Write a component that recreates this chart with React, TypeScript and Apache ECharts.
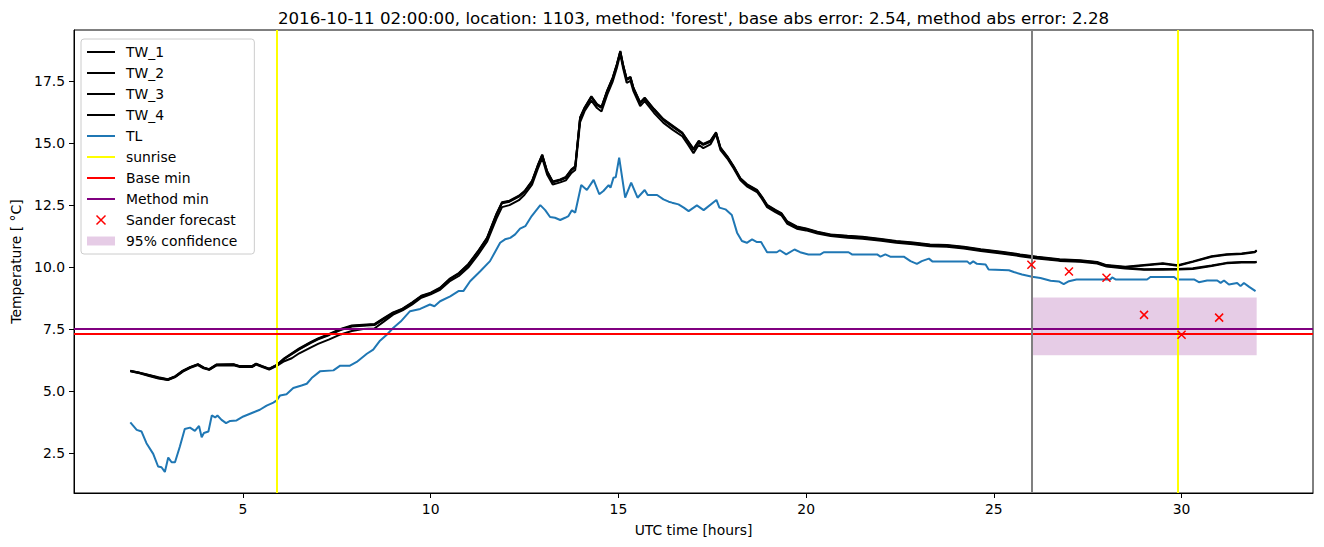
import React, { useEffect, useRef } from 'react';
import * as echarts from 'echarts';

const TITLE = "2016-10-11 02:00:00, location: 1103, method: 'forest', base abs error: 2.54, method abs error: 2.28";
const FONT = 'DejaVu Sans';

const X_TICKS = [5, 10, 15, 20, 25, 30];
const Y_TICKS = [2.5, 5, 7.5, 10, 12.5, 15, 17.5];

// TW sensors (shared time axis, hours UTC)
const T_TW = [2.0, 2.25, 2.5, 2.75, 3.0, 3.2, 3.4, 3.6, 3.8, 3.95, 4.1, 4.3, 4.75, 4.9, 5.25, 5.35, 5.5, 5.7, 5.9,
  6.1, 6.3, 6.5, 6.8, 7.0, 7.3, 7.6, 7.9, 8.2, 8.5, 8.75, 9.0, 9.25, 9.5, 9.75, 10.0, 10.25, 10.5, 10.75, 11.0,
  11.25, 11.5, 11.75, 11.9, 12.1, 12.35, 12.5, 12.7, 12.85, 12.97, 13.1, 13.25, 13.45, 13.6, 13.75, 13.85, 13.98,
  14.1, 14.28, 14.43, 14.55, 14.7, 14.85, 14.96, 15.05, 15.12, 15.22, 15.32, 15.4, 15.58, 15.7, 15.95, 16.2, 16.45,
  16.7, 16.85, 17.0, 17.14, 17.26, 17.45, 17.6, 17.72, 17.9, 18.07, 18.25, 18.42, 18.69, 18.82, 18.96, 19.18, 19.34,
  19.5, 19.75, 20.0, 20.3, 20.65, 21.1, 21.5, 22.0, 22.4, 22.85, 23.3, 23.75, 24.2, 24.65, 25.2, 25.7, 26.15, 26.75,
  27.3, 27.75, 28.0, 28.5, 29.0, 29.5, 29.9, 30.3, 30.8, 31.2, 31.6, 31.95, 32.0];

const TW_1 = [5.80, 5.72, 5.62, 5.52, 5.45, 5.58, 5.80, 5.95, 6.06, 5.93, 5.86, 6.05, 6.06, 5.99, 5.99, 6.08, 5.99, 5.88, 6.03,
  6.30, 6.50, 6.70, 6.95, 7.10, 7.28, 7.48, 7.62, 7.65, 7.68, 7.92, 8.15, 8.30, 8.55, 8.82, 8.95, 9.15, 9.50, 9.74, 10.10,
  10.60, 11.16, 12.12, 12.60, 12.66, 12.86, 13.05, 13.46, 14.08, 14.52, 13.86, 13.44, 13.52, 13.62, 13.93, 14.05, 16.02,
  16.42, 16.87, 16.56, 16.45, 17.10, 17.64, 18.18, 18.70, 18.18, 17.58, 17.66, 17.22, 16.63, 16.82, 16.36, 15.95, 15.68,
  15.41, 15.08, 14.75, 15.08, 14.95, 15.08, 15.42, 14.80, 14.45, 14.05, 13.57, 13.33, 13.10, 12.83, 12.49, 12.29, 12.16,
  11.82, 11.62, 11.54, 11.41, 11.30, 11.24, 11.20, 11.11, 11.03, 10.97, 10.89, 10.87, 10.80, 10.70, 10.60, 10.49, 10.40, 10.30,
  10.26, 10.19, 10.06, 9.99, 10.06, 10.13, 10.05, 10.21, 10.42, 10.50, 10.53, 10.60, 10.66];

const TW_2 = [5.82, 5.74, 5.64, 5.55, 5.47, 5.60, 5.82, 5.97, 6.08, 5.95, 5.88, 6.07, 6.08, 6.01, 6.01, 6.10, 6.01, 5.90, 6.05,
  6.32, 6.52, 6.72, 6.97, 7.12, 7.30, 7.50, 7.64, 7.67, 7.70, 7.94, 8.17, 8.32, 8.57, 8.84, 8.97, 9.17, 9.52, 9.76, 10.12,
  10.62, 11.18, 12.15, 12.62, 12.68, 12.88, 13.07, 13.48, 14.10, 14.54, 13.88, 13.46, 13.54, 13.64, 13.95, 14.07, 16.04,
  16.44, 16.89, 16.58, 16.47, 17.12, 17.66, 18.20, 18.72, 18.20, 17.60, 17.68, 17.24, 16.65, 16.84, 16.38, 15.97, 15.70,
  15.43, 15.10, 14.77, 15.10, 14.97, 15.10, 15.44, 14.82, 14.47, 14.07, 13.59, 13.35, 13.12, 12.85, 12.51, 12.31, 12.18,
  11.84, 11.64, 11.56, 11.43, 11.32, 11.26, 11.22, 11.13, 11.05, 10.99, 10.91, 10.89, 10.82, 10.72, 10.62, 10.51, 10.42, 10.32,
  10.28, 10.21, 10.08, 10.01, 10.08, 10.15, 10.07, 10.23, 10.44, 10.52, 10.55, 10.62, 10.68];

const TW_3 = [5.79, 5.71, 5.60, 5.50, 5.44, 5.56, 5.78, 5.93, 6.04, 5.91, 5.85, 6.03, 6.04, 5.97, 5.97, 6.06, 5.97, 5.86, 6.01,
  6.20, 6.32, 6.52, 6.75, 6.90, 7.08, 7.28, 7.42, 7.50, 7.52, 7.80, 8.08, 8.25, 8.48, 8.76, 8.90, 9.08, 9.42, 9.64, 9.98,
  10.47, 11.02, 11.95, 12.42, 12.50, 12.70, 12.92, 13.33, 13.95, 14.40, 13.74, 13.33, 13.42, 13.50, 13.80, 13.92, 15.85,
  16.30, 16.72, 16.42, 16.28, 16.95, 17.50, 18.05, 18.60, 18.06, 17.44, 17.52, 17.10, 16.50, 16.70, 16.22, 15.82, 15.54,
  15.28, 14.95, 14.60, 14.94, 14.80, 14.95, 15.36, 14.72, 14.38, 13.98, 13.50, 13.26, 13.03, 12.76, 12.42, 12.22, 12.09,
  11.74, 11.55, 11.48, 11.35, 11.25, 11.18, 11.14, 11.06, 10.98, 10.92, 10.84, 10.82, 10.75, 10.65, 10.55, 10.44, 10.35, 10.25,
  10.21, 10.14, 10.02, 9.94, 9.89, 9.89, 9.90, 9.92, 10.04, 10.15, 10.18, 10.18, 10.20];

const TW_4 = [5.81, 5.73, 5.63, 5.53, 5.46, 5.59, 5.81, 5.96, 6.07, 5.94, 5.87, 6.06, 6.07, 6.00, 6.00, 6.09, 6.00, 5.89, 6.04,
  6.29, 6.48, 6.68, 6.93, 7.08, 7.26, 7.46, 7.60, 7.63, 7.66, 7.90, 8.13, 8.29, 8.54, 8.81, 8.94, 9.14, 9.49, 9.72, 10.08,
  10.58, 11.14, 12.10, 12.58, 12.64, 12.84, 13.03, 13.44, 14.06, 14.50, 13.84, 13.42, 13.50, 13.60, 13.91, 14.03, 16.00,
  16.40, 16.85, 16.54, 16.42, 17.08, 17.62, 18.16, 18.68, 18.16, 17.56, 17.64, 17.20, 16.61, 16.80, 16.34, 15.93, 15.66,
  15.39, 15.06, 14.73, 15.06, 14.93, 15.06, 15.40, 14.78, 14.43, 14.03, 13.55, 13.31, 13.08, 12.81, 12.47, 12.27, 12.14,
  11.80, 11.60, 11.52, 11.39, 11.28, 11.22, 11.18, 11.09, 11.01, 10.95, 10.87, 10.85, 10.78, 10.68, 10.58, 10.47, 10.38, 10.28,
  10.24, 10.17, 10.04, 9.97, 9.91, 9.92, 9.92, 9.95, 10.06, 10.17, 10.20, 10.20, 10.22];

// TL sensor
const T_TL = [2.0, 2.17, 2.3, 2.43, 2.61, 2.74, 2.83, 2.92, 3.01, 3.1, 3.19, 3.32, 3.45, 3.59, 3.72, 3.83, 3.9, 3.96, 4.08,
  4.17, 4.26, 4.32, 4.43, 4.55, 4.66, 4.83, 5.01, 5.27, 5.45, 5.63, 5.81, 5.9, 5.99, 6.16, 6.34, 6.56, 6.7, 6.83, 7.05,
  7.41, 7.59, 7.85, 8.03, 8.3, 8.47, 8.65, 8.83, 9.0, 9.2, 9.45, 9.72, 9.98, 10.1, 10.25, 10.52, 10.74, 10.87, 11.05,
  11.32, 11.58, 11.85, 11.98, 12.12, 12.25, 12.38, 12.52, 12.69, 12.92, 13.05, 13.18, 13.31, 13.45, 13.58, 13.67, 13.76,
  13.85, 14.01, 14.16, 14.34, 14.49, 14.6, 14.74, 14.79, 14.87, 14.93, 15.02, 15.18, 15.34, 15.51, 15.7, 15.78, 16.03,
  16.2, 16.34, 16.43, 16.6, 16.74, 16.87, 17.09, 17.27, 17.61, 17.69, 17.85, 18.02, 18.16, 18.29, 18.42, 18.56, 18.69,
  18.8, 18.96, 19.22, 19.3, 19.47, 19.69, 19.84, 20.06, 20.38, 20.47, 21.13, 21.22, 21.89, 21.98, 22.11, 22.24, 22.6,
  22.78, 22.95, 23.08, 23.27, 23.36, 24.29, 24.36, 24.45, 24.55, 24.78, 24.86, 25.4, 25.53, 25.75, 26.02, 26.24, 26.51,
  26.73, 26.86, 27.0, 27.2, 28.1, 28.15, 28.24, 29.08, 29.17, 29.8, 29.88, 30.33, 30.46, 30.68, 30.95, 31.04, 31.13,
  31.26, 31.48, 31.57, 31.66, 31.8, 31.97];

const TL = [3.73, 3.43, 3.36, 2.89, 2.46, 1.95, 1.92, 1.73, 2.31, 2.12, 2.12, 2.76, 3.46, 3.52, 3.39, 3.59, 3.13, 3.30, 3.36,
  4.01, 3.93, 4.01, 3.83, 3.70, 3.79, 3.81, 3.97, 4.13, 4.24, 4.41, 4.53, 4.62, 4.82, 4.87, 5.12, 5.22, 5.29, 5.52, 5.79,
  5.83, 6.02, 6.02, 6.17, 6.50, 6.67, 7.03, 7.27, 7.54, 7.80, 8.22, 8.31, 8.49, 8.42, 8.62, 8.82, 9.03, 9.03, 9.43,
  9.83, 10.24, 10.98, 11.12, 11.18, 11.32, 11.55, 11.65, 12.06, 12.50, 12.30, 12.02, 11.99, 11.90, 11.99, 12.06, 12.29,
  12.20, 13.31, 13.11, 13.52, 12.94, 13.07, 13.31, 13.20, 13.61, 13.63, 14.42, 12.80, 13.41, 12.80, 13.11, 12.91, 12.91,
  12.73, 12.64, 12.60, 12.53, 12.40, 12.26, 12.49, 12.30, 12.71, 12.40, 12.33, 12.10, 11.39, 11.05, 10.98, 11.12, 11.01,
  11.01, 10.60, 10.60, 10.68, 10.51, 10.71, 10.60, 10.51, 10.51, 10.60, 10.60, 10.51, 10.51, 10.42, 10.51, 10.42, 10.42,
  10.24, 10.13, 10.24, 10.34, 10.23, 10.23, 10.13, 10.23, 10.13, 10.10, 9.90, 9.87, 9.80, 9.70, 9.61, 9.56, 9.45,
  9.42, 9.31, 9.43, 9.50, 9.50, 9.58, 9.50, 9.50, 9.60, 9.60, 9.50, 9.50, 9.39, 9.46, 9.46, 9.36, 9.46,
  9.30, 9.36, 9.23, 9.36, 9.20, 9.03];

const SUNRISE = [5.9, 29.9];
const FORECAST_START = 26;
const BASE_MIN = 7.29;
const METHOD_MIN = 7.53;
const SANDER_T = [26, 27, 28, 29, 30, 31];
const SANDER_V = [10.09, 9.82, 9.57, 8.07, 7.27, 7.96];
const CONF_T = [26, 32];
const CONF_V = [6.44, 8.77];

const X_RANGE = [0.5, 33.5];
const Y_RANGE = [0.88, 19.57];

const pairs = (t: number[], v: number[]) => t.map((x, i) => [x, v[i]]);

function twSeries(name: string, vals: number[]) {
  return {
    name,
    type: 'line',
    data: pairs(T_TW, vals),
    symbol: 'none',
    showSymbol: false,
    lineStyle: { color: '#000000', width: 2 },
    itemStyle: { color: '#000000' },
    z: 2,
  };
}

function markLineSeries(name: string, color: string, lines: any[], z = 3) {
  return {
    name,
    type: 'line',
    data: [],
    symbol: 'none',
    lineStyle: { color, width: 2 },
    itemStyle: { color },
    z,
    markLine: {
      silent: true,
      symbol: ['none', 'none'],
      label: { show: false },
      lineStyle: { color, width: 2, type: 'solid' },
      emphasis: { disabled: true },
      data: lines,
    },
  };
}

const noSymbol = (name: string) => ({
  name,
  itemStyle: { color: 'rgba(0,0,0,0)', borderColor: 'rgba(0,0,0,0)', borderWidth: 0, opacity: 0 },
});

export default function App() {
  const ref = useRef<HTMLDivElement>(null);
  useEffect(() => {
    const chart = echarts.init(ref.current!, null, { renderer: 'svg' });
    const option: any = {
      animation: false,
      backgroundColor: '#ffffff',
      textStyle: { fontFamily: FONT },
      graphic: [
        {
          type: 'text',
          x: 693.5,
          y: 18,
          style: {
            text: TITLE,
            fontFamily: FONT,
            fontSize: 16.67,
            fill: '#000000',
            align: 'center',
            verticalAlign: 'middle',
          },
        },
      ],
      grid: {
        left: 74,
        right: 11,
        top: 30,
        bottom: 54,
        show: true,
        borderColor: '#000000',
        borderWidth: 1,
        backgroundColor: 'transparent',
      },
      legend: {
        orient: 'vertical',
        left: 81,
        top: 39,
        itemWidth: 28,
        itemHeight: 9,
        itemGap: 5,
        padding: [5, 17, 5, 5],
        selectedMode: false,
        backgroundColor: 'rgba(255,255,255,0.8)',
        borderColor: '#cccccc',
        borderWidth: 1,
        borderRadius: 3,
        textStyle: { fontFamily: FONT, fontSize: 13.9, color: '#000000', lineHeight: 16, padding: [0, 0, 0, 6] },
        data: [
          noSymbol('TW_1'), noSymbol('TW_2'), noSymbol('TW_3'), noSymbol('TW_4'), noSymbol('TL'),
          noSymbol('sunrise'), noSymbol('Base min'), noSymbol('Method min'),
          { name: 'Sander forecast', itemStyle: { borderWidth: 1.5 } },
          { name: '95% confidence', icon: 'rect' },
        ],
      },
      xAxis: {
        type: 'value',
        min: X_RANGE[0],
        max: X_RANGE[1],
        name: 'UTC time [hours]',
        nameLocation: 'middle',
        nameGap: 30,
        nameTextStyle: { fontFamily: FONT, fontSize: 13.9, color: '#000000' },
        splitLine: { show: false },
        axisLine: { show: true, lineStyle: { color: '#000000', width: 1 } },
        axisTick: { show: true, inside: false, length: 5, lineStyle: { color: '#000000' }, customValues: X_TICKS },
        axisLabel: { fontFamily: FONT, fontSize: 13.9, color: '#000000', margin: 9, customValues: X_TICKS },
      },
      yAxis: {
        type: 'value',
        min: Y_RANGE[0],
        max: Y_RANGE[1],
        name: 'Temperature [ °C]',
        nameLocation: 'middle',
        nameGap: 48,
        nameRotate: 90,
        nameTextStyle: { fontFamily: FONT, fontSize: 13.9, color: '#000000' },
        splitLine: { show: false },
        axisLine: { show: true, lineStyle: { color: '#000000', width: 1 } },
        axisTick: { show: true, inside: false, length: 5, lineStyle: { color: '#000000' }, customValues: Y_TICKS },
        axisLabel: {
          fontFamily: FONT,
          fontSize: 13.9,
          color: '#000000',
          margin: 9,
          customValues: Y_TICKS,
          formatter: (v: number) => v.toFixed(1),
        },
      },
      series: [
        {
          name: '95% confidence',
          type: 'line',
          data: [],
          symbol: 'none',
          itemStyle: { color: 'rgba(128,0,128,0.2)' },
          lineStyle: { color: 'rgba(128,0,128,0.2)' },
          z: 1,
          markArea: {
            silent: true,
            itemStyle: { color: 'rgba(128,0,128,0.2)' },
            emphasis: { disabled: true },
            data: [[{ xAxis: CONF_T[0], yAxis: CONF_V[0] }, { xAxis: CONF_T[1], yAxis: CONF_V[1] }]],
          },
        },
        twSeries('TW_1', TW_1),
        twSeries('TW_2', TW_2),
        twSeries('TW_3', TW_3),
        twSeries('TW_4', TW_4),
        {
          name: 'TL',
          type: 'line',
          data: pairs(T_TL, TL),
          symbol: 'none',
          showSymbol: false,
          lineStyle: { color: '#1f77b4', width: 2 },
          itemStyle: { color: '#1f77b4' },
          z: 2,
        },
        markLineSeries('sunrise', '#ffff00', SUNRISE.map((x) => ({ xAxis: x }))),
        markLineSeries('Base min', '#ff0000', [{ yAxis: BASE_MIN }]),
        markLineSeries('Method min', '#800080', [{ yAxis: METHOD_MIN }]),
        markLineSeries('forecast start', '#808080', [{ xAxis: FORECAST_START }]),
        {
          name: 'Sander forecast',
          type: 'scatter',
          data: pairs(SANDER_T, SANDER_V),
          symbol: 'path://M0,0L10,10M10,0L0,10',
          symbolSize: 8,
          itemStyle: { color: 'rgba(0,0,0,0)', borderColor: '#ff0000', borderWidth: 1.5, opacity: 1 },
          z: 5,
        },
      ],
    };
    chart.setOption(option);
    return () => chart.dispose();
  }, []);
  return (
    <div
      ref={ref}
      style={{ position: 'fixed', left: 0, top: 0, width: 1324, height: 547, background: '#ffffff' }}
    />
  );
}
